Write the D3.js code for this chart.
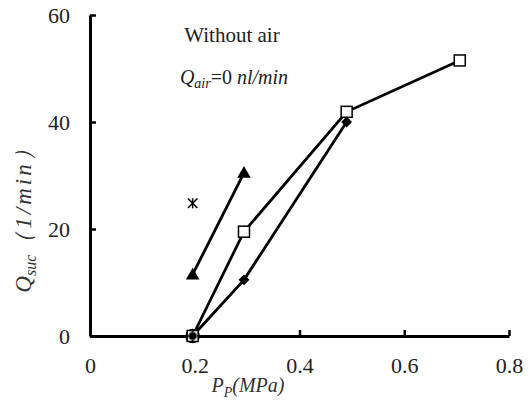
<!DOCTYPE html>
<html>
<head>
<meta charset="utf-8">
<script src="https://cdn.jsdelivr.net/npm/d3@7"></script>
<style>
  body { margin: 0; background: #fff; }
</style>
</head>
<body>
<svg id="chart" width="528" height="407"></svg>
<script>
// pressure, MPa
var pressure = [0.196, 0.294, 0.49, 0.706];
// suction flow, l/min
var squareSeries = [0, 19.5, 41.9, 51.5];
var diamondSeries = [0, 10.5, 40.0];
var triangleX = [0.196, 0.294];
var triangleSeries = [11.5, 30.5];
var starX = [0.196];
var starSeries = [24.8];
var circleX = [0.196];
var circleSeries = [0];

var xTicks = [0, 0.2, 0.4, 0.6, 0.8];
var yTicks = [0, 20, 40, 60];

var SERIF = '"Liberation Serif"';
var svg = d3.select('#chart');

var x = d3.scaleLinear().domain([0, 0.8]).range([90, 509]);
var y = d3.scaleLinear().domain([0, 60]).range([336, 15]);

//axes, ticks pointing inward
var xAxis = d3.axisBottom(x).tickValues(xTicks).tickSizeInner(-6).tickSizeOuter(0)
  .tickFormat(function(d) { return d === 0 ? '0' : d3.format('.1f')(d); });
var yAxis = d3.axisLeft(y).tickValues(yTicks).tickSizeInner(-6).tickSizeOuter(0);

var gx = svg.append('g').attr('transform', 'translate(0,' + y(0) + ')').call(xAxis);
var gy = svg.append('g').attr('transform', 'translate(' + x(0) + ',0)').call(yAxis);

[gx, gy].forEach(function(g) {
  g.attr('font-family', null).attr('font-size', null);
  g.select('.domain').attr('stroke', '#000').attr('stroke-width', 3);
  g.selectAll('.tick line').attr('stroke', '#000').attr('stroke-width', 2.5);
  g.selectAll('.tick text')
    .style('font-family', SERIF).style('font-size', '22px').style('fill', '#222');
});
gx.selectAll('.tick text').attr('dy', 0).attr('y', 37);
gy.selectAll('.tick text').attr('x', -20).attr('dy', '0.35em');

var line = d3.line().x(function(d) { return x(d[0]); }).y(function(d) { return y(d[1]); });

function pairs(xs, ys) {
  return ys.map(function(v, i) { return [xs[i], v]; });
}

var sq = pairs(pressure, squareSeries);
var dm = pairs(pressure, diamondSeries);
var tr = pairs(triangleX, triangleSeries);

[sq, dm, tr].forEach(function(p) {
  svg.append('path').datum(p).attr('d', line)
    .attr('fill', 'none').attr('stroke', '#000').attr('stroke-width', 2.8);
});

//markers
svg.selectAll('.circ').data(pairs(circleX, circleSeries)).enter().append('circle')
  .attr('cx', function(d) { return x(d[0]); }).attr('cy', function(d) { return y(d[1]); })
  .attr('r', 6.5).attr('fill', '#222').attr('stroke', '#000').attr('stroke-width', 1.5);

svg.selectAll('.sq').data(sq).enter().append('rect')
  .attr('x', function(d) { return x(d[0]) - 5.5; }).attr('y', function(d) { return y(d[1]) - 5.5; })
  .attr('width', 11).attr('height', 11)
  .attr('fill', '#fff').attr('stroke', '#000').attr('stroke-width', 1.5);

var diamond = d3.symbol().type(d3.symbolDiamond2).size(75);
svg.selectAll('.dm').data(dm).enter().append('path')
  .attr('d', diamond)
  .attr('transform', function(d) { return 'translate(' + x(d[0]) + ',' + y(d[1]) + ')'; })
  .attr('fill', '#000');

var tri = d3.symbol().type(d3.symbolTriangle).size(80);
svg.selectAll('.tr').data(tr).enter().append('path')
  .attr('d', tri)
  .attr('transform', function(d) { return 'translate(' + x(d[0]) + ',' + (y(d[1]) + 1) + ')'; })
  .attr('fill', '#000');

var star = d3.symbol().type(d3.symbolTimes).size(60);
svg.selectAll('.st').data(pairs(starX, starSeries)).enter().append('g')
  .attr('transform', function(d) { return 'translate(' + x(d[0]) + ',' + y(d[1]) + ')'; })
  .each(function() {
    var g = d3.select(this);
    g.append('path').attr('d', star).attr('fill', 'none').attr('stroke', '#000').attr('stroke-width', 1.5);
    g.append('line').attr('x1', 0).attr('x2', 0).attr('y1', -5).attr('y2', 5)
      .attr('stroke', '#000').attr('stroke-width', 1.5);
  });

// open ring over the origin point
svg.selectAll('.ring').data(pairs(circleX, circleSeries)).enter().append('circle')
  .attr('cx', function(d) { return x(d[0]); }).attr('cy', function(d) { return y(d[1]); })
  .attr('r', 4).attr('fill', 'none').attr('stroke', '#666').attr('stroke-width', 1);

//annotations
svg.append('text').attr('x', 232).attr('y', 42).attr('text-anchor', 'middle')
  .style('font-family', SERIF).style('font-size', '21px').style('fill', '#222')
  .text('Without air');

var q = svg.append('text').attr('x', 234).attr('y', 84).attr('text-anchor', 'middle')
  .style('font-family', SERIF).style('font-size', '20px').style('fill', '#222')
  .style('font-style', 'italic');
q.append('tspan').text('Q');
q.append('tspan').style('font-size', '14px').attr('dy', 4).text('air');
q.append('tspan').attr('dy', -4).style('font-style', 'normal').text('=0 ');
q.append('tspan').text('nl/min');

//axis labels
var xl = svg.append('text').attr('x', 248).attr('y', 392).attr('text-anchor', 'middle')
  .style('font-family', SERIF).style('font-size', '20px').style('fill', '#333')
  .style('font-style', 'italic');
xl.append('tspan').text('P');
xl.append('tspan').style('font-size', '14px').attr('dy', 5).text('P');
xl.append('tspan').attr('dy', -5).text('(MPa)');

var yl = svg.append('text').attr('transform', 'translate(31,214) rotate(-90)')
  .attr('text-anchor', 'middle')
  .style('font-family', SERIF).style('font-size', '23px').style('fill', '#333')
  .style('font-style', 'italic');
yl.append('tspan').text('Q');
yl.append('tspan').style('font-size', '16px').attr('dy', 5).text('suc');
yl.append('tspan').attr('dy', -5).style('letter-spacing', '3px').text('\uFF081/min\uFF09');
</script>
</body>
</html>
